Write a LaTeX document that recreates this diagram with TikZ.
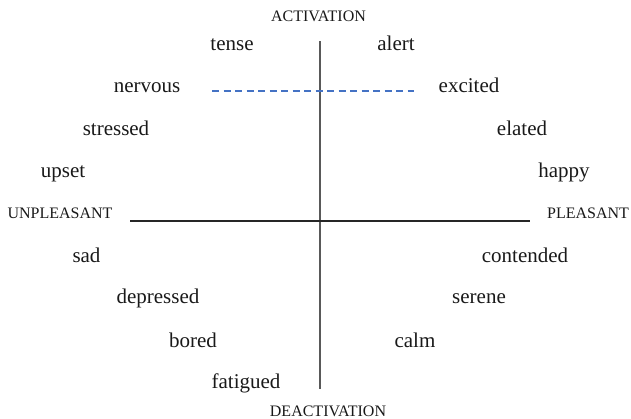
\documentclass[tikz,border=0pt]{standalone}
\usepackage{fontspec}
\setmainfont{Liberation Serif}
\definecolor{dashblue}{RGB}{68,114,196}
\begin{document}
\begin{tikzpicture}[x=1pt,y=-1pt,
  word/.style={anchor=base,inner sep=0pt,font=\fontsize{21}{25}\selectfont,text=black!90},
  axislabel/.style={anchor=base,inner sep=0pt,font=\fontsize{16}{19}\selectfont,text=black!90},
  axis/.style={line width=1.3pt,draw=black!65},
  haxis/.style={line width=1.1pt,draw=black!85},
  dashline/.style={line width=1.1pt,draw=dashblue,dash pattern=on 7pt off 4.5pt}]
\useasboundingbox (0,0) rectangle (631,418);
% axis labels
\node[axislabel] (act) at (318.5,21) {ACTIVATION};
\node[axislabel] (deact) at (328,416) {DEACTIVATION};
\node[axislabel] (unp) at (60,218) {UNPLEASANT};
\node[axislabel] (ple) at (588,218) {PLEASANT};
% axes
\coordinate (vtop) at (320,41);
\coordinate (vbot) at (320,389);
\coordinate (hl) at (130,221);
\coordinate (hr) at (530,221);
\coordinate (dl) at (212,91);
\coordinate (dr) at (414,91);
\draw[axis] (vtop) -- (vbot);
\draw[haxis] (hl) -- (hr);
\draw[dashline] (dl) -- (dr);
% words
\node[word] (tense) at (232,50) {tense};
\node[word] (alert) at (396,50) {alert};
\node[word] (nervous) at (147,92) {nervous};
\node[word] (excited) at (469,92) {excited};
\node[word] (stressed) at (116,135) {stressed};
\node[word] (elated) at (522,135) {elated};
\node[word] (upset) at (63,177) {upset};
\node[word] (happy) at (564,177) {happy};
\node[word] (sad) at (86.5,262) {sad};
\node[word] (contended) at (525,262) {contended};
\node[word] (depressed) at (158,303) {depressed};
\node[word] (serene) at (479,303) {serene};
\node[word] (bored) at (193,347) {bored};
\node[word] (calm) at (415,347) {calm};
\node[word] (fatigued) at (246,388) {fatigued};
\end{tikzpicture}
\end{document}
